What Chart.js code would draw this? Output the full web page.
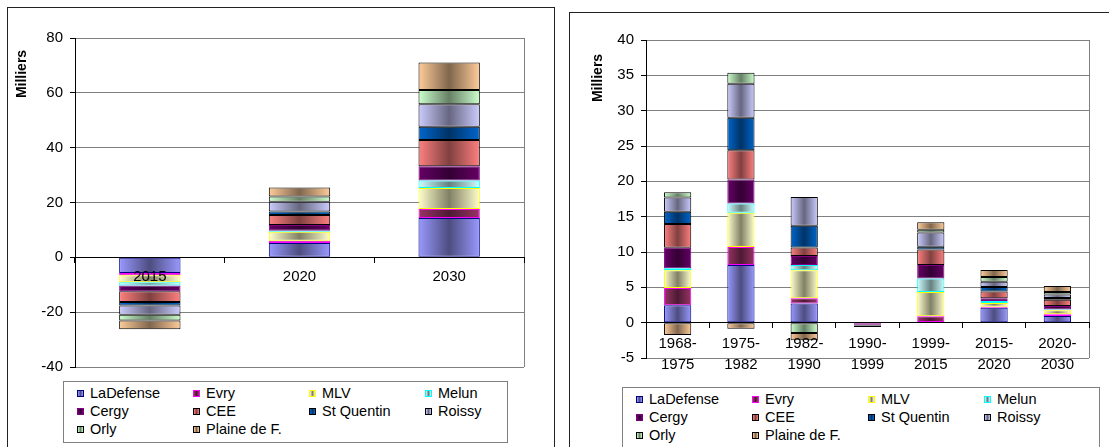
<!DOCTYPE html>
<html>
<head>
<meta charset="utf-8">
<script src="https://cdn.jsdelivr.net/npm/chart.js@4.4.0/dist/chart.umd.min.js"></script>
<style>
  body {
    margin: 0;
    width: 1109px;
    height: 447px;
    overflow: hidden;
    position: relative;
    background: #fff;
    font-family: "Liberation Sans", Arial, sans-serif;
  }
  .panel {
    position: absolute;
    border: 1px solid #222;
    background: #fff;
  }
  #leftPanel { left: 7px; top: 7px; width: 546px; height: 460px; }
  #rightPanel { left: 569px; top: 12px; width: 560px; height: 460px; }
  .chart-box { position: absolute; left: 0; top: 0; }
  .legend {
    position: absolute;
    border: 1px solid #808080;
    background: #fff;
    display: grid;
    grid-template-columns: repeat(4, 116px);
    grid-auto-rows: 18px;
    padding: 2px 0 0 13px;
    box-sizing: border-box;
    font-size: 14.5px;
    color: #000;
  }
  .legend-item { display: flex; align-items: center; white-space: nowrap; }
  .legend-swatch {
    width: 5px;
    height: 5px;
    border: 1px solid #000;
    margin-right: 6px;
  }
</style>
</head>
<body>
  <div class="panel" id="leftPanel">
    <div class="chart-box" style="width:545px;height:439px"><canvas id="leftChart"></canvas></div>
  </div>
  <div class="panel" id="rightPanel">
    <div class="chart-box" style="width:539px;height:434px"><canvas id="rightChart"></canvas></div>
  </div>
  <div class="legend" id="leftLegend" style="left:63px;top:381px;width:445px;height:62px"></div>
  <div class="legend" id="rightLegend" style="left:622px;top:387px;width:478px;height:70px"></div>

<script>
// ── Series ──────────────────────────────────────────
const SERIES = ['LaDefense', 'Evry', 'MLV', 'Melun', 'Cergy', 'CEE', 'St Quentin', 'Roissy', 'Orly', 'Plaine de F.'];
const FILLS = ['#9999FF', '#993366', '#FFFFCC', '#CCFFFF', '#660066', '#FF8080', '#0066CC', '#CCCCFF', '#CCFFCC', '#FFCC99'];
const BORDERS = ['#000080', '#FF00FF', '#FFFF00', '#00FFFF', '#800080', '#000000', '#000000', '#000000', '#000000', '#000000'];

// ── Left chart: horizons (Milliers) ─────────────────
const yearLabels = ['2015', '2020', '2030'];
const yearValues = [
  [-5.7, 5.2, 14.35],   // LaDefense
  [-0.85, 0.85, 3.3],   // Evry
  [-2.55, 3.3, 7.65],   // MLV
  [-1.2, 0.35, 2.7],    // Melun
  [-2.1, 2.05, 5.2],    // Cergy
  [-3.9, 3.65, 9.6],    // CEE
  [-1.3, 1.35, 4.85],   // St Quentin
  [-3.3, 3.5, 8.15],    // Roissy
  [-2.1, 1.95, 5.2],    // Orly
  [-3.2, 3.3, 10.1],    // Plaine de F.
];
const yearTicks = { min: -40, max: 80, step: 20 };

// ── Right chart: periods (Milliers) ─────────────────
const periodLabels = [
  ['1968-', '1975'], ['1975-', '1982'], ['1982-', '1990'], ['1990-', '1999'],
  ['1999-', '2015'], ['2015-', '2020'], ['2020-', '2030'],
];
const periodValues = [
  [2.45, 8.15, 2.7, 0, 0.1, 2.1, 0.95],      // LaDefense
  [2.45, 2.55, 0.75, 0, 0.8, 0.15, 0.25],    // Evry
  [2.5, 4.85, 3.95, 0, 3.45, 0.55, 0.55],    // MLV
  [0.3, 1.3, 0.75, 0, 1.9, 0.25, 0.1],       // Melun
  [2.9, 3.4, 1.3, -0.3, 1.9, 0.4, 0.5],      // Cergy
  [3.35, 4.15, 1.2, -0.1, 2.2, 0.95, 0.9],   // CEE
  [1.75, 4.6, 3.05, 0, 0.4, 0.65, 0.25],     // St Quentin
  [2.0, 4.8, 4.1, 0, 2.0, 0.75, 0.5],        // Roissy
  [0.75, 1.55, -1.45, -0.2, 0.4, 0.65, 0.35],// Orly
  [-1.75, -0.85, -1.05, 0, 1.05, 1.0, 0.85], // Plaine de F.
];
const periodTicks = { min: -5, max: 40, step: 5 };

const FONT = '"Liberation Sans", Arial, sans-serif';
Chart.defaults.font.family = FONT;
Chart.defaults.color = '#000';

// ── Helpers ─────────────────────────────────────────
function shade(hex, f) {
  const n = parseInt(hex.slice(1), 16);
  const r = Math.round(((n >> 16) & 255) * f);
  const g = Math.round(((n >> 8) & 255) * f);
  const b = Math.round((n & 255) * f);
  return `rgb(${r},${g},${b})`;
}

// Excel-style shading: light edges, dark middle
function barFill(base, barPct) {
  return (ctx) => {
    const chart = ctx.chart;
    const xs = chart.scales.x;
    if (ctx.type !== 'data' || !xs) return base;
    const cx = xs.getPixelForValue(ctx.dataIndex);
    const w = (xs.width / chart.data.labels.length) * barPct;
    if (!Number.isFinite(cx) || !Number.isFinite(w) || w <= 0) return base;
    const g = chart.ctx.createLinearGradient(cx - w / 2, 0, cx + w / 2, 0);
    g.addColorStop(0, base);
    g.addColorStop(0.5, shade(base, 0.5));
    g.addColorStop(1, base);
    return g;
  };
}

// gray right edge of the plot + rotated "Milliers" near the top of the axis
const plotFrame = {
  id: 'plotFrame',
  beforeDatasetsDraw(chart) {
    const { ctx, chartArea: a } = chart;
    ctx.save();
    ctx.strokeStyle = '#808080';
    ctx.lineWidth = 1;
    ctx.beginPath();
    ctx.moveTo(Math.round(a.right) + 0.5, a.top);
    ctx.lineTo(Math.round(a.right) + 0.5, a.bottom);
    ctx.stroke();
    ctx.restore();
  },
  afterDraw(chart, args, opts) {
    const { ctx, chartArea: a } = chart;
    ctx.save();
    ctx.translate(a.left - opts.dx, a.top + opts.dy);
    ctx.rotate(-Math.PI / 2);
    ctx.font = `bold 14px ${FONT}`;
    ctx.fillStyle = '#000';
    ctx.textAlign = 'center';
    ctx.textBaseline = 'middle';
    ctx.fillText(opts.text, 0, 0);
    ctx.restore();
  },
};

function buildChart(id, labels, values, ticks, o) {
  const datasets = SERIES.map((name, i) => ({
    label: name,
    data: values[i],
    backgroundColor: barFill(FILLS[i], o.barPct),
    borderColor: BORDERS[i],
    borderWidth: 1,
    borderSkipped: false,
    barPercentage: o.barPct,
    categoryPercentage: 1,
  }));

  return new Chart(document.getElementById(id), {
    type: 'bar',
    data: { labels, datasets },
    plugins: [plotFrame],
    options: {
      responsive: true,
      maintainAspectRatio: false,
      animation: false,
      layout: { padding: o.padding },
      plugins: {
        legend: { display: false },
        tooltip: { enabled: false },
        plotFrame: { text: 'Milliers', dx: o.titleDx, dy: o.titleDy },
      },
      scales: {
        x: {
          stacked: true,
          position: { y: 0 },
          grid: { drawOnChartArea: false, tickLength: 5, tickColor: '#000', offset: true, z: 1 },
          border: { color: '#000', width: 1, z: 1 },
          ticks: {
            z: 1,
            font: { size: 15, lineHeight: o.xLineHeight },
            padding: o.xPad,
            maxRotation: 0,
            autoSkip: false,
          },
        },
        y: {
          stacked: true,
          min: ticks.min,
          max: ticks.max,
          afterFit: (scale) => { scale.width = o.yWidth; },
          grid: { color: '#808080', tickLength: 5, tickColor: '#000' },
          border: { color: '#000', width: 1 },
          ticks: { stepSize: ticks.step, font: { size: 15 }, padding: 7 },
        },
      },
    },
  });
}

function buildLegend(id) {
  const el = document.getElementById(id);
  el.innerHTML = SERIES.map((name, i) => {
    const grad = `linear-gradient(to right, ${FILLS[i]}, ${shade(FILLS[i], 0.5)}, ${FILLS[i]})`;
    return `<div class="legend-item"><span class="legend-swatch" style="background:${grad};border-color:${BORDERS[i]}"></span>${name}</div>`;
  }).join('');
}

// ── Init ────────────────────────────────────────────
buildLegend('leftLegend');
buildLegend('rightLegend');
buildChart('leftChart', yearLabels, yearValues, yearTicks, {
  barPct: 0.41,
  padding: { top: 30, bottom: 80, left: 0, right: 29 },
  yWidth: 67,
  titleDx: 53,
  titleDy: 36,
  xPad: 6,
  xLineHeight: 1.2,
});
buildChart('rightChart', periodLabels, periodValues, periodTicks, {
  barPct: 0.43,
  padding: { top: 27, bottom: 89, left: 0, right: 20 },
  yWidth: 76,
  titleDx: 48,
  titleDy: 38,
  xPad: 6,
  xLineHeight: 1.4,
});
</script>
</body>
</html>
